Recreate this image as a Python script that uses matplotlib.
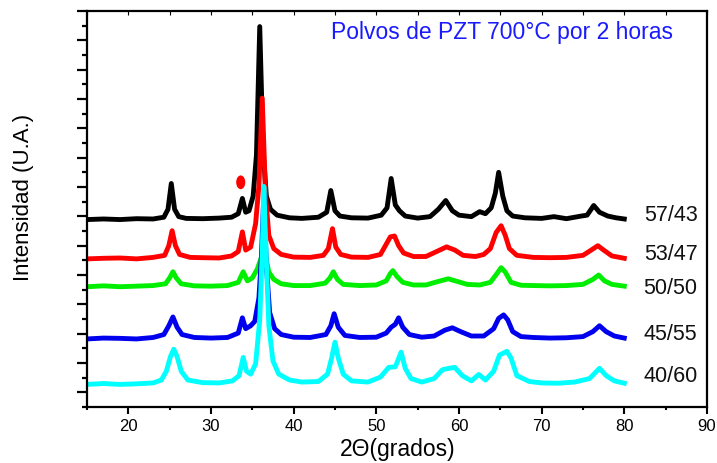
import numpy as np
import matplotlib.pyplot as plt
from matplotlib.patches import Ellipse
from matplotlib.ticker import MultipleLocator

plt.rcParams['font.family'] = ['Liberation Sans', 'DejaVu Sans']

# 2-theta positions and intensities (above each pattern's baseline)
x_5743 = [15, 17, 19, 21, 23, 24.3, 24.8, 25.2, 25.6, 26.1, 27, 29, 31, 32.5, 33.3, 33.8, 34.2, 34.6,
          35.1, 35.5, 35.9, 36.3, 36.7, 37.2, 38, 39.5, 41, 43, 44.0, 44.5, 45.0, 45.6, 47, 49, 50.6,
          51.3, 51.8, 52.3, 52.8, 53.5, 55, 56.5, 57.5, 58.4, 59.2, 60, 61.5, 62.5, 63.2, 63.9, 64.4,
          64.8, 65.3, 65.8, 66.5, 68, 70, 71.5, 73, 74.8, 75.5, 76.3, 77, 78, 79, 80]
y_5743 = [0, 0.02, 0, 0.03, 0.02, 0.08, 0.35, 1.23, 0.35, 0.1, 0.04, 0.03, 0.05, 0.08, 0.2, 0.72, 0.25, 0.3,
          0.8, 2.2, 6.58, 2.4, 0.8, 0.35, 0.15, 0.06, 0.04, 0.08, 0.25, 0.99, 0.3, 0.12, 0.06, 0.05, 0.15,
          0.4, 1.4, 0.5, 0.3, 0.12, 0.05, 0.1, 0.35, 0.65, 0.3, 0.15, 0.1, 0.27, 0.2, 0.4, 0.9,
          1.61, 0.8, 0.3, 0.12, 0.06, 0.04, 0.1, 0.03, 0.12, 0.15, 0.48, 0.25, 0.12, 0.06, 0.02]

x_5347 = [15, 17, 19, 21, 23, 24.4, 24.9, 25.3, 25.7, 26.2, 27.5, 29, 31, 32.5, 33.3, 33.8, 34.2, 34.8,
          35.4, 35.8, 36.2, 36.6, 37.0, 37.6, 38.5, 40, 42, 43.6, 44.2, 44.7, 45.1, 45.7, 47, 49, 50.5,
          51.2, 51.7, 52.2, 52.7, 53.3, 54.5, 56, 57.3, 58.5, 59.5, 60.5, 62, 63, 63.8, 64.5, 65.1,
          65.6, 66.1, 67, 69, 71, 73, 75, 76, 76.8, 77.5, 78.5, 80]
y_5347 = [0, 0.02, 0.03, 0, 0.05, 0.12, 0.45, 0.96, 0.45, 0.15, 0.05, 0.04, 0.03, 0.1, 0.25, 0.92, 0.3, 0.4,
          1.2, 2.5, 5.48, 2.2, 0.8, 0.35, 0.15, 0.06, 0.05, 0.12, 0.35, 1.03, 0.4, 0.15, 0.06, 0.05, 0.15,
          0.5, 0.75, 0.78, 0.45, 0.2, 0.08, 0.08, 0.25, 0.41, 0.3, 0.12, 0.08, 0.15, 0.35, 0.9, 1.13,
          0.8, 0.35, 0.12, 0.05, 0.04, 0.05, 0.12, 0.3, 0.45, 0.3, 0.1, 0.02]

x_5050 = [15, 17, 19, 21, 23, 24.5, 25.0, 25.4, 25.8, 26.4, 28, 30, 32, 33.3, 33.9, 34.4, 35.0, 35.6,
          36.1, 36.4, 36.7, 37.0, 37.6, 38.5, 40, 42, 43.8, 44.4, 44.8, 45.3, 46, 48, 50, 51.2, 51.7,
          52.0, 52.5, 53.2, 54.5, 56, 57.5, 58.7, 59.8, 61, 62.5, 63.8, 64.6, 65.1, 65.6, 66.3, 67.5,
          69, 71, 73, 75, 76.2, 76.9, 77.6, 78.5, 80]
y_5050 = [0, 0.03, 0, 0.02, 0.04, 0.1, 0.3, 0.51, 0.3, 0.1, 0.03, 0.02, 0.04, 0.15, 0.51, 0.2, 0.3, 0.6,
          1.0, 1.6, 0.9, 0.5, 0.25, 0.1, 0.04, 0.04, 0.12, 0.3, 0.51, 0.25, 0.08, 0.04, 0.06, 0.2, 0.45,
          0.55, 0.35, 0.15, 0.06, 0.06, 0.18, 0.27, 0.18, 0.08, 0.06, 0.15, 0.45, 0.65, 0.5, 0.15, 0.05,
          0.04, 0.03, 0.04, 0.08, 0.25, 0.4, 0.2, 0.08, 0.02]

x_4555 = [15, 17, 19, 21, 23, 24.3, 24.9, 25.4, 25.9, 26.5, 28, 30, 32, 33.3, 33.8, 34.2, 34.8, 35.3,
          35.8, 36.1, 36.4, 36.7, 37.1, 37.7, 38.5, 40, 42, 43.9, 44.5, 44.9, 45.4, 46.2, 48, 50, 51.2,
          51.8, 52.3, 52.7, 53.2, 54, 55.5, 57, 58.3, 59.2, 60.2, 61.5, 63, 64.2, 64.8, 65.4, 65.9,
          66.5, 67.5, 69, 71, 73, 75, 76.2, 77.0, 77.8, 78.8, 80]
y_4555 = [0, 0.03, 0.02, 0, 0.05, 0.15, 0.45, 0.75, 0.4, 0.15, 0.05, 0.03, 0.05, 0.2, 0.72, 0.35, 0.45, 0.6,
          1.4, 2.8, 4.97, 2.5, 0.9, 0.35, 0.15, 0.06, 0.05, 0.15, 0.45, 0.86, 0.4, 0.12, 0.05, 0.06, 0.2,
          0.4, 0.5, 0.72, 0.4, 0.15, 0.06, 0.1, 0.3, 0.38, 0.25, 0.1, 0.1, 0.35, 0.7, 0.82, 0.65,
          0.25, 0.08, 0.05, 0.03, 0.04, 0.08, 0.25, 0.45, 0.25, 0.1, 0.03]

x_4060 = [15, 17, 19, 21, 23, 24.0, 24.6, 25.1, 25.5, 25.9, 26.4, 27.2, 29, 31, 32.6, 33.4, 33.9, 34.3,
          34.8, 35.4, 35.9, 36.2, 36.4, 36.7, 37.0, 37.5, 38.2, 39.5, 41, 43, 44.1, 44.6, 45.0, 45.4,
          46.0, 47, 49, 50.5, 51.5, 52.3, 53.0, 53.5, 54.2, 55.5, 57, 58.0, 58.8, 59.5, 60.4, 61.5,
          62.4, 63.2, 64.2, 64.9, 65.8, 66.3, 67, 68.5, 70, 72, 74, 75.8, 77.0, 77.8, 78.8, 80]
y_4060 = [0, 0.03, 0, 0.02, 0.05, 0.15, 0.45, 0.95, 1.2, 0.95, 0.45, 0.15, 0.06, 0.05, 0.12, 0.3, 0.92, 0.45,
          0.35, 0.7, 2.2, 4.5, 6.75, 4.2, 2.0, 0.8, 0.35, 0.15, 0.08, 0.1, 0.35, 0.9, 1.44, 0.9,
          0.35, 0.12, 0.08, 0.25, 0.58, 0.6, 1.1, 0.55, 0.2, 0.08, 0.2, 0.5, 0.55, 0.58, 0.3, 0.12,
          0.34, 0.15, 0.45, 1.0, 1.13, 0.9, 0.3, 0.1, 0.05, 0.04, 0.08, 0.2, 0.55, 0.3, 0.12, 0.04]

series_x = [x_5743, x_5347, x_5050, x_4555, x_4060]
series_y = [y_5743, y_5347, y_5050, y_4555, y_4060]
offsets = [5.89, 4.55, 3.60, 1.82, 0.27]
labels = ['57/43', '53/47', '50/50', '45/55', '40/60']
label_y = [6.06, 4.73, 3.56, 2.02, 0.58]
colors = ['black', 'red', '#00ee00', '#0000ee', 'cyan']

# extra-phase marker (red dot)
dot_x, dot_y = 33.6, 7.16

fig = plt.figure(figsize=(7.17, 4.64), dpi=100)
ax = fig.add_axes([0.1213, 0.1207, 0.8647, 0.8534])

for xs, ys, off, c in zip(series_x, series_y, offsets, colors):
    ax.plot(xs, np.array(ys) + off, color=c, lw=3.5, solid_joinstyle='round')

for lab, ly in zip(labels, label_y):
    ax.text(85.6, ly, lab, ha='center', va='center', fontsize=15.5, color='#111111')

ax.add_patch(Ellipse((dot_x, dot_y), 1.1, 0.47, color='red', lw=0))

ax.text(0.669, 0.949, 'Polvos de PZT 700°C por 2 horas', transform=ax.transAxes,
        ha='center', va='center', fontsize=16.5, color='#1a1aff')

ax.set_xlim(15, 90)
ax.set_ylim(-0.5, 13.0)
ax.xaxis.set_major_locator(MultipleLocator(10))
ax.xaxis.set_minor_locator(MultipleLocator(5))
ax.yaxis.set_major_locator(MultipleLocator(1))
ax.yaxis.set_minor_locator(MultipleLocator(0.5))
ax.tick_params(axis='y', which='major', direction='out', length=7, width=1.6, labelleft=False)
ax.tick_params(axis='y', which='minor', direction='out', length=3.5, width=1.6)
ax.tick_params(axis='x', which='major', direction='out', length=5, width=1.5, labelsize=12, pad=3)
ax.tick_params(axis='x', which='minor', direction='out', length=2.5, width=1.5)

# small inward ticks on the top edge
sec = ax.secondary_xaxis('top')
sec.xaxis.set_major_locator(MultipleLocator(5))
sec.tick_params(direction='in', length=3, width=0.8, labeltop=False)

for s in ax.spines.values():
    s.set_linewidth(1.6)
sec.spines['top'].set_visible(False)

fig.text(398 / 717, 1 - 450 / 464, '2\u0398(grados)', ha='center', va='center', fontsize=16.5)
fig.text(24 / 717, 1 - 197 / 464, 'Intensidad (U.A.)', ha='center', va='center',
         rotation=90, fontsize=16)

fig.savefig('out.png', dpi=100)
